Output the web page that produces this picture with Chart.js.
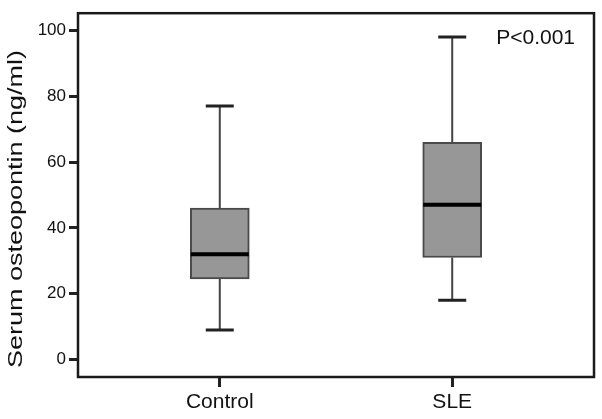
<!DOCTYPE html>
<html>
<head>
<meta charset="utf-8">
<script src="https://cdn.jsdelivr.net/npm/chart.js@4/dist/chart.umd.min.js"></script>
<style>
  html, body { margin: 0; padding: 0; background: #fff; }
  #wrap { width: 602px; height: 419px; }
</style>
</head>
<body>
<div id="wrap"><canvas id="chart"></canvas></div>
<script>
// dados
const categories = ['Control', 'SLE'];
const positions = [1, 2];
const minValues = [9, 18];
const q1Values = [24.5, 31];
const medianValues = [32, 47];
const q3Values = [46, 66];
const maxValues = [77, 98];
const yTicks = [0, 20, 40, 60, 80, 100];
const yTitle = 'Serum osteopontin (ng/ml)';
const pText = 'P<0.001';

const FONT = '"Liberation Sans", Arial, sans-serif';

// desenha bigodes, mediana, moldura e textos usando as escalas do Chart.js
const boxPlotExtras = {
  id: 'boxPlotExtras',
  afterDatasetsDraw(chart) {
    const { ctx, scales: { x, y }, chartArea } = chart;
    ctx.save();
    positions.forEach((p, i) => {
      const cx = x.getPixelForValue(p);
      const halfCap = 14;
      const halfBox = 29;
      ctx.strokeStyle = '#444';
      ctx.lineWidth = 2;
      ctx.beginPath();
      ctx.moveTo(cx, y.getPixelForValue(q3Values[i]));
      ctx.lineTo(cx, y.getPixelForValue(maxValues[i]));
      ctx.moveTo(cx, y.getPixelForValue(q1Values[i]));
      ctx.lineTo(cx, y.getPixelForValue(minValues[i]));
      ctx.stroke();
      ctx.lineWidth = 3;
      ctx.strokeStyle = '#222';
      ctx.beginPath();
      ctx.moveTo(cx - halfCap, y.getPixelForValue(maxValues[i]));
      ctx.lineTo(cx + halfCap, y.getPixelForValue(maxValues[i]));
      ctx.moveTo(cx - halfCap, y.getPixelForValue(minValues[i]));
      ctx.lineTo(cx + halfCap, y.getPixelForValue(minValues[i]));
      ctx.stroke();
      ctx.lineWidth = 4;
      ctx.strokeStyle = '#000';
      ctx.beginPath();
      ctx.moveTo(cx - halfBox, y.getPixelForValue(medianValues[i]));
      ctx.lineTo(cx + halfBox, y.getPixelForValue(medianValues[i]));
      ctx.stroke();
    });
    // moldura
    ctx.strokeStyle = '#1a1a1a';
    ctx.lineWidth = 2.5;
    ctx.strokeRect(chartArea.left, chartArea.top, chartArea.right - chartArea.left, chartArea.bottom - chartArea.top);
    // texto do valor de P
    ctx.fillStyle = '#111';
    ctx.font = '21px ' + FONT;
    ctx.textAlign = 'right';
    ctx.textBaseline = 'middle';
    ctx.fillText(pText, chartArea.right - 19, chartArea.top + 25);
    // título do eixo y (esticado como no original)
    ctx.font = '20px ' + FONT;
    const w = ctx.measureText(yTitle).width;
    ctx.translate(16, 209);
    ctx.rotate(-Math.PI / 2);
    ctx.scale(318 / w, 1);
    ctx.textAlign = 'center';
    ctx.fillText(yTitle, 0, 0);
    ctx.restore();
  }
};

const ctx = document.getElementById('chart').getContext('2d');
new Chart(ctx, {
  type: 'bar',
  data: {
    datasets: [{
      data: positions.map((p, i) => ({ x: p, y: [q1Values[i], q3Values[i]] })),
      backgroundColor: '#979797',
      borderColor: '#4a4a4a',
      borderWidth: 2,
      borderSkipped: false,
      barThickness: 59
    }]
  },
  options: {
    responsive: true,
    maintainAspectRatio: false,
    animation: false,
    layout: { padding: { top: 8, right: 8, left: 0, bottom: 0 } },
    plugins: { legend: { display: false }, tooltip: { enabled: false } },
    scales: {
      x: {
        type: 'linear',
        offset: false,
        min: 0.39,
        max: 2.61,
        afterBuildTicks: axis => { axis.ticks = positions.map(v => ({ value: v })); },
        afterFit: axis => { axis.height = 42; },
        border: { display: false },
        grid: { offset: false, drawOnChartArea: false, drawTicks: true, tickLength: 10, lineWidth: 3, color: '#222' },
        ticks: {
          callback: v => categories[positions.indexOf(v)] || '',
          color: '#111',
          padding: 3,
          font: { family: FONT, size: 21 }
        }
      },
      y: {
        min: -5.3,
        max: 105.2,
        afterBuildTicks: axis => { axis.ticks = yTicks.map(v => ({ value: v })); },
        afterFit: axis => { axis.width = 78; },
        border: { display: false },
        grid: { drawOnChartArea: false, drawTicks: true, tickLength: 9, lineWidth: 3, color: '#222' },
        ticks: {
          color: '#111',
          padding: 3,
          font: { family: FONT, size: 17 }
        }
      }
    }
  },
  plugins: [boxPlotExtras]
});
</script>
</body>
</html>
